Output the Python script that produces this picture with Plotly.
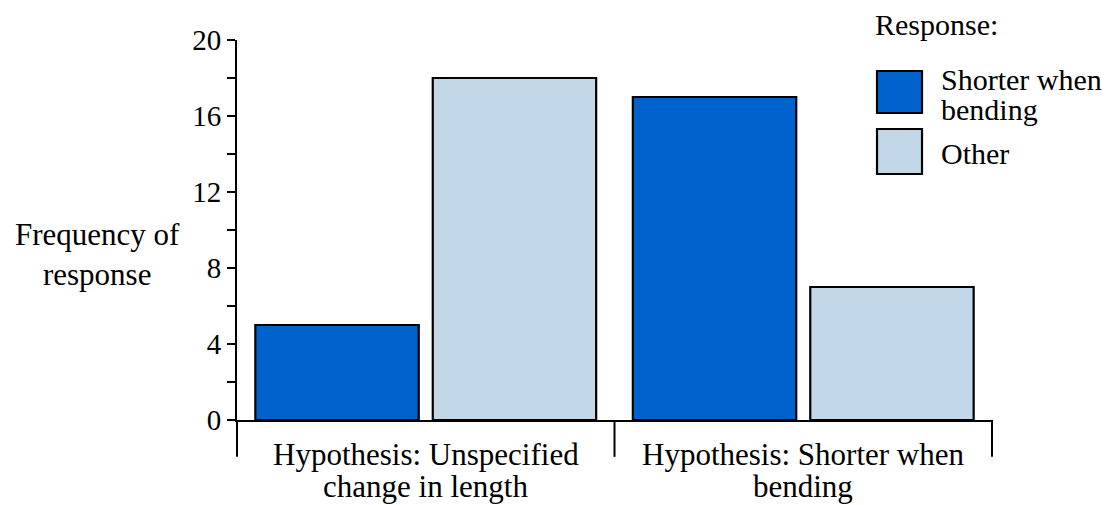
import plotly.graph_objects as go

category_lines = [["Hypothesis: Unspecified", "change in length"], ["Hypothesis: Shorter when", "bending"]]
series_names = ["Shorter when bending", "Other"]
shorter_vals = [5, 17]
other_vals = [18, 7]
colors = ["#0062CC", "#C2D8E8"]
y_ticks = [0, 4, 8, 12, 16, 20]

FONT = "Liberation Serif, Times New Roman, serif"
cat_ids = ["c0", "c1"]

fig = go.Figure()
for name, vals, col in zip(series_names, [shorter_vals, other_vals], colors):
    fig.add_trace(go.Bar(x=cat_ids, y=vals, name=name,
                         marker=dict(color=col, line=dict(color="black", width=2.2)),
                         showlegend=False))

# page body has 8px default margin -> compensate
fig.update_layout(
    width=1111, height=497,
    margin=dict(l=229, r=127, t=32, b=85),
    plot_bgcolor="white", paper_bgcolor="white",
    barmode="group", bargap=0.06, bargroupgap=0.079,
    font=dict(family=FONT, size=31, color="black"),
    xaxis=dict(range=[-0.5, 1.5], showline=True, linecolor="black", linewidth=2,
               showticklabels=False, ticks="", showgrid=False, zeroline=False),
    yaxis=dict(range=[0, 20], showline=True, linecolor="black", linewidth=2,
               tickvals=y_ticks, ticks="outside", ticklen=8, tickwidth=2, tickcolor="black",
               minor=dict(dtick=2, tick0=0, ticks="outside", ticklen=8, tickwidth=2, tickcolor="black"),
               showgrid=False, zeroline=False, tickfont=dict(size=29), ticklabelstandoff=0),
)

# category brackets
for xp in [0, 0.5, 1]:
    fig.add_shape(type="line", xref="paper", yref="paper", x0=xp, x1=xp, y0=0, y1=-0.097,
                  line=dict(color="black", width=2))
line_y = [-0.0895, -0.1737]
for cid, lines in zip(cat_ids, category_lines):
    for txt, yy in zip(lines, line_y):
        fig.add_annotation(x=cid, xref="x", y=yy, yref="paper", text=txt, showarrow=False,
                           xanchor="center", yanchor="middle", font=dict(size=31))

# y title
fig.add_annotation(x=(97 - 237) / 755, xref="paper", y=(420 - 254) / 380, yref="paper",
                   text="Frequency of<br>response", showarrow=False, xanchor="center",
                   yanchor="middle", font=dict(size=31))

# custom legend
fig.add_annotation(x=0.842, y=1.042, xref="paper", yref="paper", text="Response:", showarrow=False,
                   xanchor="left", yanchor="middle", font=dict(size=30))
boxes = [(0.8079, 0.9184), (0.6474, 0.7658)]
for col, (y0, y1) in zip(colors, boxes):
    fig.add_shape(type="rect", xref="paper", yref="paper", x0=0.8477, x1=0.9073,
                  y0=y0, y1=y1, fillcolor=col, line=dict(color="black", width=2.2))
legend_text = [("Shorter when", 0.897), ("bending", 0.818), ("Other", 0.7026)]
for txt, yy in legend_text:
    fig.add_annotation(x=0.930, y=yy, xref="paper", yref="paper", text=txt, showarrow=False,
                       xanchor="left", yanchor="middle", font=dict(size=30))

fig.write_html("out.html")
